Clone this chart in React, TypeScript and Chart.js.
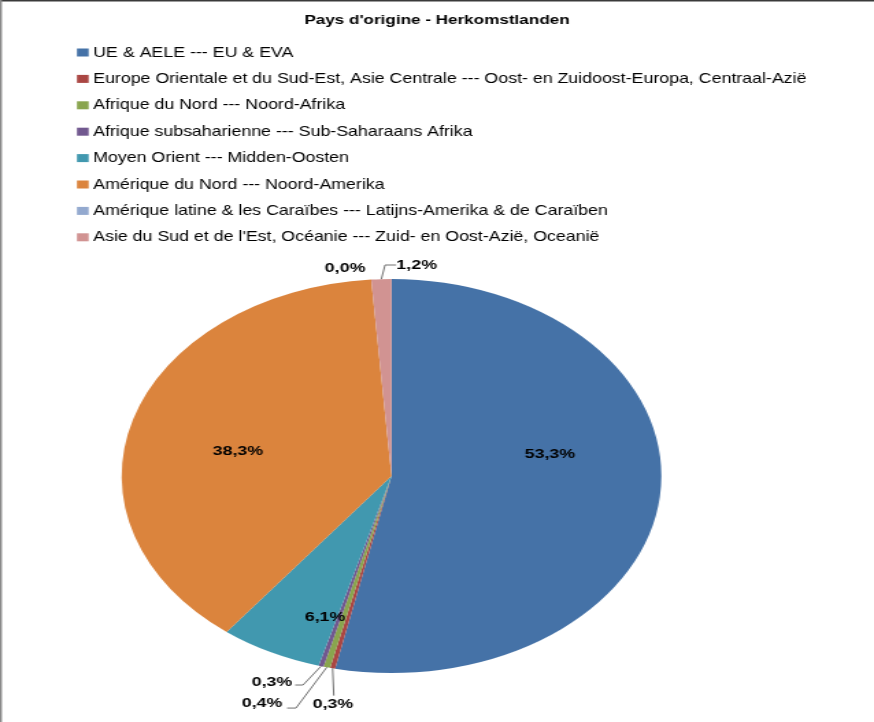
import React, { useEffect, useRef } from "react";
import { Chart, registerables } from "chart.js";

Chart.register(...registerables);

// ---- data ----
const categories = [
  "UE & AELE --- EU & EVA",
  "Europe Orientale et du Sud-Est, Asie Centrale --- Oost- en Zuidoost-Europa, Centraal-Azië",
  "Afrique du Nord --- Noord-Afrika",
  "Afrique subsaharienne --- Sub-Saharaans Afrika",
  "Moyen Orient --- Midden-Oosten",
  "Amérique du Nord --- Noord-Amerika",
  "Amérique latine & les Caraïbes --- Latijns-Amerika & de Caraïben",
  "Asie du Sud et de l'Est, Océanie --- Zuid- en Oost-Azië, Oceanië",
];
const shares = [53.3, 0.3, 0.4, 0.3, 6.1, 38.3, 0.0, 1.2];
const sliceColors = [
  "#4572A7",
  "#AA4643",
  "#89A54E",
  "#71588F",
  "#4198AF",
  "#DB843D",
  "#93A9CF",
  "#D19392",
];
const chartTitle = "Pays d'origine - Herkomstlanden";

// ---- layout (internal canvas, stretched horizontally like the reference) ----
const OUT_W = 874;
const OUT_H = 722;
const W = 638;
const H = 722;
const FONT = "'Liberation Sans', Arial, sans-serif";

// label placement in units of the pie radius, relative to its centre
const labelPlacement: Record<number, { text: [number, number]; path?: [number, number][] }> = {
  0: { text: [0.587, -0.112] },
  1: { text: [-0.217, 1.162], path: [[-0.214, 1.115]] },
  2: { text: [-0.48, 1.152], path: [[-0.354, 1.178], [-0.387, 1.178]] },
  3: { text: [-0.443, 1.046], path: [[-0.328, 1.061], [-0.357, 1.061]] },
  4: { text: [-0.246, 0.716] },
  5: { text: [-0.569, -0.127] },
  6: { text: [-0.172, -1.056] },
  7: { text: [0.093, -1.071], path: [[-0.024, -1.071], [0.017, -1.071]] },
};

const fmt = (v: number) => v.toFixed(1).replace(".", ",") + "%";

function drawText(
  ctx: CanvasRenderingContext2D,
  text: string,
  x: number,
  y: number,
  hs: number,
  align: CanvasTextAlign
) {
  ctx.save();
  ctx.translate(x, y);
  ctx.scale(hs, 1);
  ctx.textAlign = align;
  ctx.textBaseline = "middle";
  ctx.fillText(text, 0, 0);
  ctx.restore();
}

const overlayPlugin = {
  id: "overlay",
  afterDraw(chart: any) {
    const ctx: CanvasRenderingContext2D = chart.ctx;
    ctx.save();

    // frame lines
    ctx.fillStyle = "#3a3a3a";
    ctx.fillRect(0, 0, W, 1.5);
    ctx.fillStyle = "#8a8a8a";
    ctx.fillRect(0, 0, 1.4, H);

    // title
    ctx.fillStyle = "#000";
    ctx.font = `bold 13px ${FONT}`;
    drawText(ctx, chartTitle, W / 2, 20, 0.96, "center");

    // legend
    ctx.font = `15px ${FONT}`;
    categories.forEach((label, i) => {
      const y = 52.5 + i * 26.4;
      ctx.fillStyle = sliceColors[i];
      ctx.fillRect(56.2, y - 4, 8.5, 8);
      ctx.fillStyle = "#000";
      drawText(ctx, label, 68, y, 0.865, "left");
    });

    // data labels
    const meta = chart.getDatasetMeta(0);
    const arcs = meta.data;
    if (arcs.length) {
      const cx = arcs[0].x;
      const cy = arcs[0].y;
      const r = arcs[0].outerRadius;
      ctx.font = `bold 13px ${FONT}`;
      arcs.forEach((arc: any, i: number) => {
        const p = labelPlacement[i];
        if (!p) return;
        if (p.path) {
          const mid = (arc.startAngle + arc.endAngle) / 2;
          ctx.beginPath();
          ctx.strokeStyle = "#707070";
          ctx.lineWidth = 1;
          ctx.moveTo(cx + Math.cos(mid) * r, cy + Math.sin(mid) * r);
          p.path.forEach(([dx, dy]) => ctx.lineTo(cx + dx * r, cy + dy * r));
          ctx.stroke();
        }
        ctx.fillStyle = "#000";
        drawText(ctx, fmt(shares[i]), cx + p.text[0] * r, cy + p.text[1] * r, 1, "center");
      });
    }
    ctx.restore();
  },
};

export default function App() {
  const canvasRef = useRef<HTMLCanvasElement | null>(null);

  useEffect(() => {
    document.body.style.margin = "0";
    const canvas = canvasRef.current;
    if (!canvas) return;
    const chart = new Chart(canvas, {
      type: "pie",
      data: {
        labels: categories,
        datasets: [
          {
            data: shares,
            backgroundColor: sliceColors,
            borderWidth: 0,
          },
        ],
      },
      options: {
        responsive: false,
        animation: false,
        layout: { padding: { top: 279, bottom: 49, left: 88.8, right: 155.2 } },
        plugins: {
          legend: { display: false },
          title: { display: false },
          tooltip: { enabled: false },
        },
      },
      plugins: [overlayPlugin],
    } as any);
    return () => chart.destroy();
  }, []);

  return (
    <div
      style={{
        position: "fixed",
        left: 0,
        top: 0,
        width: OUT_W,
        height: OUT_H,
        overflow: "hidden",
        background: "#fff",
      }}
    >
      <div
        style={{
          width: W,
          height: H,
          transform: `scaleX(${OUT_W / W})`,
          transformOrigin: "0 0",
        }}
      >
        <canvas ref={canvasRef} width={W} height={H} style={{ width: W, height: H, display: "block" }} />
      </div>
    </div>
  );
}
